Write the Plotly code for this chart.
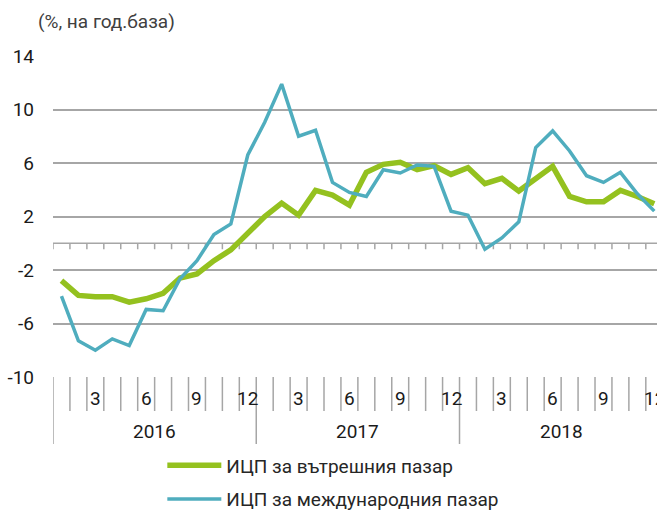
import plotly.graph_objects as go

# ---------------- data ----------------
years = ["2016", "2017", "2018"]
months = [1, 2, 3, 4, 5, 6, 7, 8, 9, 10, 11, 12]
labelled_months = [3, 6, 9, 12]
series_names = ["ИЦП за вътрешния пазар", "ИЦП за международния пазар"]

domestic = [-2.8, -3.9, -4.0, -4.0, -4.4, -4.15, -3.75, -2.6, -2.3, -1.3, -0.5, 0.8,
            2.0, 3.0, 2.1, 3.95, 3.6, 2.85, 5.3, 5.9, 6.05, 5.5, 5.8, 5.15,
            5.65, 4.45, 4.85, 3.9, 4.85, 5.75, 3.5, 3.1, 3.1, 3.95, 3.5, 2.95]
international = [-3.95, -7.3, -8.0, -7.15, -7.65, -4.95, -5.05, -2.65, -1.3, 0.65, 1.45, 6.6,
                 9.05, 11.9, 8.0, 8.45, 4.55, 3.8, 3.5, 5.5, 5.25, 5.85, 5.75, 2.4,
                 2.1, -0.45, 0.4, 1.6, 7.15, 8.4, 6.9, 5.05, 4.55, 5.3, 3.7, 2.4]
y_ticks = [14, 10, 6, 2, -2, -6, -10]
subtitle = "(%, на год.база)"

# ---------------- figure ----------------
FONT = "Roboto, 'Noto Sans', sans-serif"
n = len(years) * len(months)
xs = list(range(n))

fig = go.Figure()
fig.add_trace(go.Scatter(x=xs, y=domestic, mode="lines", name=series_names[0],
                         line=dict(color="#94C11F", width=5.5), legendgroup="a"))
fig.add_trace(go.Scatter(x=xs, y=international, mode="lines", name=series_names[1],
                         line=dict(color="#4FADBE", width=3.5), legendgroup="b"))

grid_col = "#A6A6A6"
shapes = []
# category axis crossing at zero with tick marks at month boundaries
shapes.append(dict(type="line", xref="x", yref="y", x0=-0.5, x1=n - 0.5, y0=0, y1=0,
                   line=dict(color=grid_col, width=1.5), layer="below"))
for k in range(n + 1):
    b = k - 0.5
    shapes.append(dict(type="line", xref="x", yref="y", ysizemode="pixel", yanchor=0,
                       x0=b, x1=b, y0=0, y1=-6, line=dict(color=grid_col, width=1.5), layer="below"))
    # separators under the plot (multi-level category labels)
    depth = -67 if k % 12 == 0 else -34
    shapes.append(dict(type="line", xref="x", yref="paper", ysizemode="pixel", yanchor=0,
                       x0=b, x1=b, y0=0, y1=depth, line=dict(color=grid_col, width=1.5)))

annotations = []
for yi, yr in enumerate(years):
    for m in labelled_months:
        annotations.append(dict(xref="x", yref="paper", x=yi * 12 + (m - 1), y=0, yshift=-21,
                                text=str(m), showarrow=False, yanchor="middle", xanchor="center",
                                font=dict(size=19, color="#1A1A1A", family=FONT)))
    annotations.append(dict(xref="x", yref="paper", x=yi * 12 + 5.5, y=0, yshift=-54,
                            text=yr, showarrow=False, yanchor="middle", xanchor="center",
                            font=dict(size=19, color="#1A1A1A", family=FONT)))
annotations.append(dict(xref="paper", yref="paper", x=-0.028, y=1.109, text=subtitle,
                        showarrow=False, xanchor="left", yanchor="middle",
                        font=dict(size=19, color="#404040", family=FONT)))

fig.update_layout(
    width=657, height=511,
    margin=dict(l=53, r=0, t=56, b=134, autoexpand=False),
    paper_bgcolor="white", plot_bgcolor="white",
    font=dict(family=FONT, size=19, color="#1A1A1A"),
    xaxis=dict(range=[-0.5, 35.16], showgrid=False, zeroline=False, showline=False,
               showticklabels=False, ticks="", fixedrange=True, automargin=False),
    yaxis=dict(range=[-10, 14], tickvals=y_ticks, ticktext=[str(v) for v in y_ticks],
               showgrid=True, gridcolor=grid_col, gridwidth=1.5, zeroline=False,
               showline=False, ticks="", ticklabelstandoff=18, fixedrange=True,
               automargin=False, tickfont=dict(size=19, color="#1A1A1A")),
    shapes=shapes, annotations=annotations,
    showlegend=True,
    legend=dict(orientation="v", x=0.181, xanchor="left", y=-0.2165, yanchor="top",
                font=dict(size=19, color="#262626", family=FONT), tracegroupgap=6,
                itemwidth=54, bgcolor="rgba(0,0,0,0)"),
)

fig.write_html("out.html", config={"displayModeBar": False},
               post_script="document.body.style.margin='0px';document.body.style.overflow='hidden';")
